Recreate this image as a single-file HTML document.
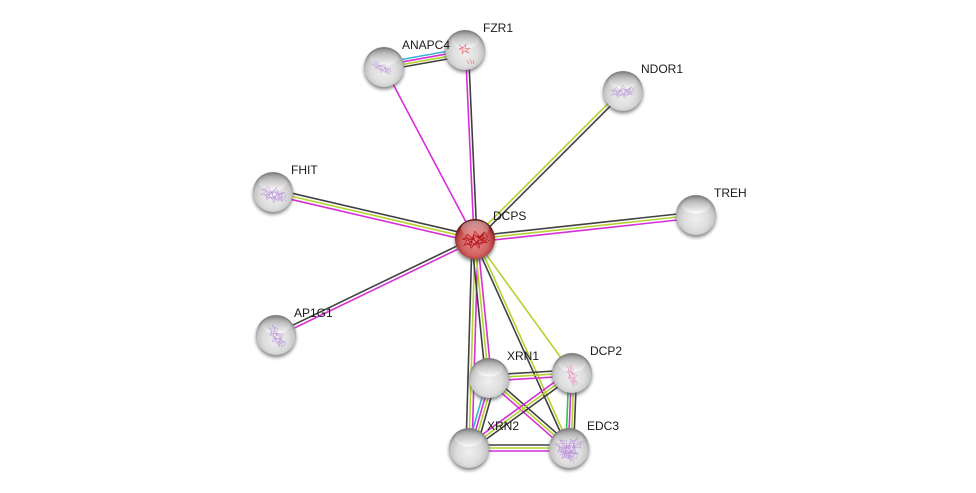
<!DOCTYPE html>
<html><head><meta charset="utf-8"><style>
html,body{margin:0;padding:0;background:#fff;width:976px;height:493px;overflow:hidden}
svg{display:block}
text{font-family:"Liberation Sans",Arial,sans-serif;font-size:12px;fill:#1a1a1a}
.k,.y,.m,.c,.g{stroke-width:1.6;fill:none}
.k{stroke:#404040}.y{stroke:#b4d32f}.m{stroke:#d62fd6}.c{stroke:#35b5dc}.g{stroke:#35c04f}
.sc{fill:none;stroke:#bd95da;stroke-width:.5;opacity:.95}
.sr{fill:none;stroke:#b3131c;stroke-width:.6}
.sp{fill:none;stroke:#e594bd;stroke-width:.5}
.sf{fill:none;stroke:#ee7a80;stroke-width:.7}
</style></head><body>
<svg width="976" height="493" viewBox="0 0 976 493" xmlns="http://www.w3.org/2000/svg">
<defs>
<radialGradient id="b" cx="50%" cy="60%" r="56%"><stop offset="0" stop-color="#efefef"/><stop offset=".55" stop-color="#dedede"/><stop offset=".82" stop-color="#c6c6c6"/><stop offset=".94" stop-color="#a2a2a2"/><stop offset="1" stop-color="#808080"/></radialGradient>
<radialGradient id="r" cx="50%" cy="58%" r="54%"><stop offset="0" stop-color="#e58a8a"/><stop offset=".6" stop-color="#d46464"/><stop offset=".84" stop-color="#b23f3f"/><stop offset=".95" stop-color="#842020"/><stop offset="1" stop-color="#601212"/></radialGradient>
<linearGradient id="h" x1="0" y1="0" x2="0" y2="1"><stop offset="0" stop-color="#8a8a8a" stop-opacity=".6"/><stop offset=".45" stop-color="#c4c4c4" stop-opacity=".55"/><stop offset="1" stop-color="#fff" stop-opacity=".95"/></linearGradient>
<linearGradient id="hr" x1="0" y1="0" x2="0" y2="1"><stop offset="0" stop-color="#fff" stop-opacity=".5"/><stop offset="1" stop-color="#fff" stop-opacity=".1"/></linearGradient>
<filter id="s" x="-30%" y="-30%" width="160%" height="160%"><feGaussianBlur stdDeviation="1.8"/></filter>
<g id="n"><circle cx="0" cy="2.5" r="20" fill="#444" opacity=".65" filter="url(#s)"/><circle r="20" fill="url(#b)"/><ellipse cx="0" cy="-10" rx="14" ry="8.5" fill="url(#h)"/></g>
<g id="nr"><circle cx="0" cy="2.5" r="20" fill="#444" opacity=".65" filter="url(#s)"/><circle r="20" fill="url(#r)"/><ellipse cx="0" cy="-10.5" rx="14" ry="8" fill="url(#hr)"/></g>
<path id="q" d="M-11-3l5-4 3 5 4-6 3 6 5-3 2 5-5 1 3 4-6-2-2 5-3-5-4 3-1-5-5 1 4-4-4-2 5 0 3 3 4-4 4 4 4-3-2 5-5 0-3 3-3-4-4 2M-9 1l5 3 4-2 4 3 5-3 3 2M-7-2l4 1 3-2 5 2 3-3M-8-4l3 6 3-5 2 7 3-6 2 5 3-4M-6 4l3-7 4 8 2-9 3 7"/>
</defs>

<!-- edges -->
<line class="c" x1="384" y1="62.6" x2="465" y2="48.1"/>
<line class="m" x1="384" y1="65.2" x2="465" y2="50.7"/>
<line class="y" x1="384" y1="67.8" x2="465" y2="53.3"/>
<line class="k" x1="384" y1="70.4" x2="465" y2="55.9"/>
<line class="m" x1="384" y1="67" x2="475" y2="239"/>
<line class="m" x1="465.5" y1="50" x2="474.1" y2="239"/>
<line class="k" x1="468.4" y1="50" x2="477" y2="239"/>
<line class="y" x1="621.8" y1="89.8" x2="473.8" y2="237.8"/>
<line class="k" x1="624.2" y1="92.2" x2="476.2" y2="240.2"/>
<line class="k" x1="273" y1="188.8" x2="475" y2="235.8"/>
<line class="y" x1="273" y1="192" x2="475" y2="239"/>
<line class="m" x1="273" y1="195.2" x2="475" y2="242.2"/>
<line class="k" x1="696" y1="212" x2="475" y2="236"/>
<line class="y" x1="696" y1="215" x2="475" y2="239"/>
<line class="m" x1="696" y1="218" x2="475" y2="242"/>
<line class="k" x1="276" y1="333.3" x2="475" y2="237.3"/>
<line class="m" x1="276" y1="336.9" x2="475" y2="240.9"/>
<line class="y" x1="475" y1="239" x2="572" y2="373"/>
<line class="k" x1="473.5" y1="239" x2="567.5" y2="448"/>
<line class="y" x1="476.5" y1="239" x2="570.5" y2="448"/>
<line class="k" x1="472" y1="239" x2="466" y2="448"/>
<line class="y" x1="475" y1="239" x2="469" y2="448"/>
<line class="m" x1="478" y1="239" x2="472" y2="448"/>
<line class="k" x1="471.5" y1="239" x2="485.5" y2="378"/>
<line class="y" x1="474.5" y1="239" x2="488.5" y2="378"/>
<line class="m" x1="477.5" y1="239" x2="491.5" y2="378"/>
<line class="c" x1="487.6" y1="378" x2="467.6" y2="448"/>
<line class="m" x1="490.6" y1="378" x2="470.6" y2="448"/>
<line class="y" x1="493.6" y1="378" x2="473.6" y2="448"/>
<line class="k" x1="496.6" y1="378" x2="476.6" y2="448"/>
<line class="k" x1="489" y1="375" x2="572" y2="370"/>
<line class="y" x1="489" y1="378" x2="572" y2="373"/>
<line class="m" x1="489" y1="381" x2="572" y2="376"/>
<line class="k" x1="491" y1="375.8" x2="571" y2="445.8"/>
<line class="y" x1="489" y1="378" x2="569" y2="448"/>
<line class="m" x1="487" y1="380.2" x2="567" y2="450.2"/>
<line class="m" x1="570.2" y1="370.6" x2="467.2" y2="445.6"/>
<line class="y" x1="572" y1="373" x2="469" y2="448"/>
<line class="k" x1="573.8" y1="375.4" x2="470.8" y2="450.4"/>
<line class="g" x1="568.8" y1="373" x2="565.8" y2="448"/>
<line class="m" x1="571.4" y1="373" x2="568.4" y2="448"/>
<line class="y" x1="574" y1="373" x2="571" y2="448"/>
<line class="k" x1="576.6" y1="373" x2="573.6" y2="448"/>
<line class="k" x1="469" y1="445" x2="569" y2="445"/>
<line class="y" x1="469" y1="448" x2="569" y2="448"/>
<line class="m" x1="469" y1="451" x2="569" y2="451"/>

<!-- nodes -->
<use href="#n" x="384" y="67"/>
<use href="#q" transform="translate(382,68) rotate(25) scale(.9,.6)" class="sc"/>
<use href="#n" x="465" y="50"/>
<path class="sf" d="M459 45l4 3 3-4-1 5 5-1-4 3 3 2-5-2-2 3 1-5-4 0 4-2M467 60l2 4M470 59l2 5M473 60l1 4"/>
<use href="#n" x="623" y="91"/>
<use href="#q" transform="translate(623,92) rotate(-8) scale(1,.8)" class="sc"/>
<use href="#n" x="273" y="192"/>
<use href="#q" transform="translate(274,195) rotate(10) scale(1.1,.95)" class="sc"/>
<use href="#n" x="696" y="215"/>
<use href="#n" x="276" y="335"/>
<use href="#q" transform="translate(277,337) rotate(55) scale(1.05,.8)" class="sc"/>
<use href="#nr" x="475" y="239"/>
<use href="#q" transform="translate(476,240) rotate(-15) scale(1.1)" class="sr"/>
<use href="#n" x="489" y="378"/>
<use href="#n" x="572" y="373"/>
<use href="#q" transform="translate(572,376) rotate(70) scale(.95,.6)" class="sp"/>
<use href="#n" x="469" y="448"/>
<use href="#n" x="569" y="448"/>
<use href="#q" transform="translate(567,451) rotate(40) scale(1.1)" class="sc"/>
<use href="#q" transform="translate(571,448) rotate(130) scale(1.05)" class="sc"/>

<!-- labels -->
<text x="402" y="49">ANAPC4</text>
<text x="483" y="32">FZR1</text>
<text x="641" y="73">NDOR1</text>
<text x="291" y="174">FHIT</text>
<text x="714" y="197">TREH</text>
<text x="493" y="220">DCPS</text>
<text x="294" y="317">AP1G1</text>
<text x="507" y="360">XRN1</text>
<text x="590" y="355">DCP2</text>
<text x="487" y="430">XRN2</text>
<text x="587" y="430">EDC3</text>
</svg>
</body></html>
